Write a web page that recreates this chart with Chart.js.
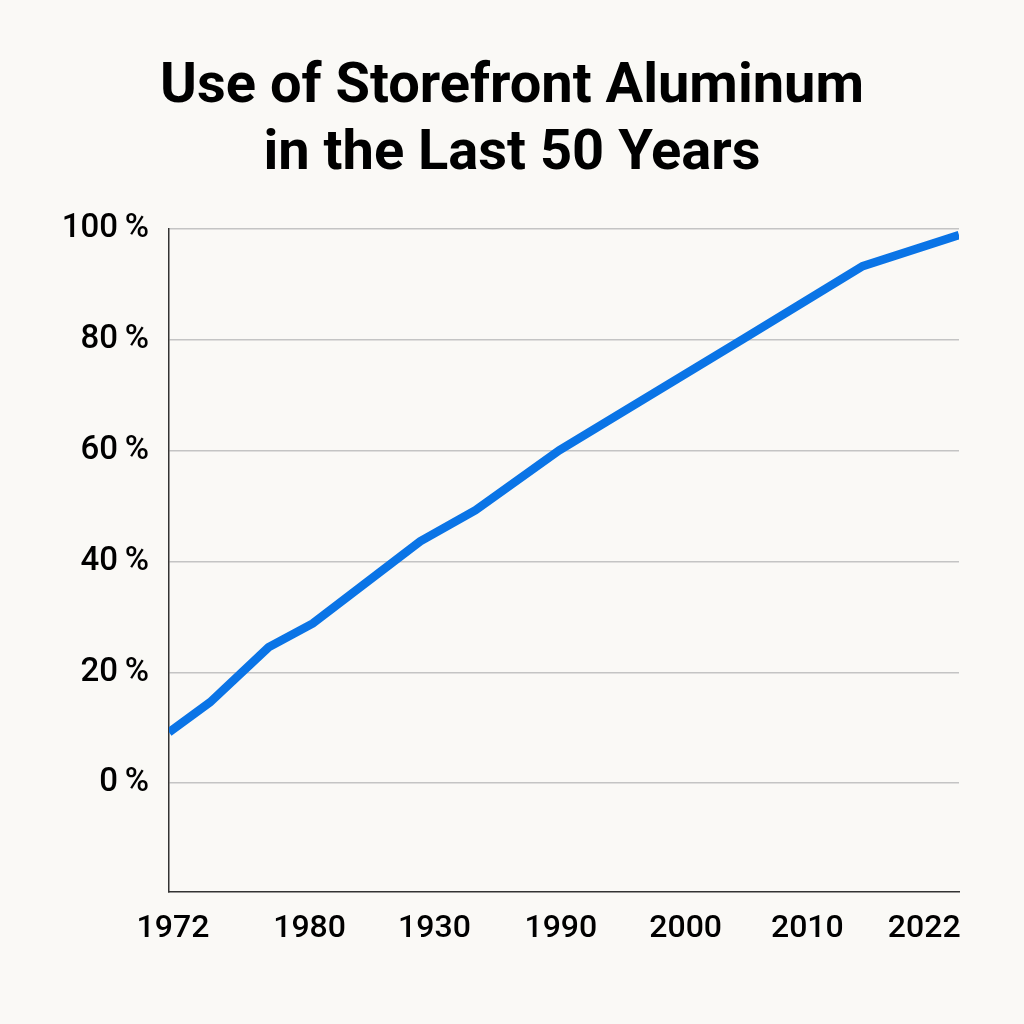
<!DOCTYPE html>
<html>
<head>
<meta charset="utf-8">
<script src="https://cdn.jsdelivr.net/npm/chart.js@4/dist/chart.umd.min.js"></script>
<style>
  html, body { margin: 0; padding: 0; background: #faf9f6; }
  #wrap { width: 1024px; height: 1024px; }
</style>
</head>
<body>
<div id="wrap"><canvas id="line-chart"></canvas></div>
<script>
// values (x in years, y in percent)
var years = [1972, 1974.6, 1978.3, 1981.1, 1987.9, 1991.4, 1996.7, 2008.3, 2015.9, 2022];
var usePct = [9.2, 14.6, 24.5, 28.8, 43.6, 49.2, 60, 80, 93.2, 98.8];

var xTickYears = [1972.25, 1980.9, 1988.8, 1996.8, 2004.7, 2012.4, 2019.8];
var xTickLabels = ['1972', '1980', '1930', '1990', '2000', '2010', '2022'];
var yTicks = [0, 20, 40, 60, 80, 100];

var titleLines = ['Use of Storefront Aluminum', 'in the Last 50 Years'];

var points = years.map(function(y, i) { return { x: y, y: usePct[i] }; });

var ctx = document.getElementById('line-chart');

var myLineChart = new Chart(ctx, {
	type: 'line',
	data: {
		datasets: [
			{
				label: 'Storefront aluminum',
				data: points,
				borderColor: '#0a74e6',
				borderWidth: 8.5,
				pointRadius: 0,
				fill: false,
				tension: 0,
				clip: 0
			}
		]
	},
	options: {
		responsive: true,
		maintainAspectRatio: false,
		animation: false,
		layout: { padding: 0 },
		plugins: {
			legend: { display: false },
			tooltip: { enabled: false },
			title: {
				display: true,
				text: titleLines,
				color: '#000',
				font: { family: 'Roboto', size: 56, weight: 'bold', lineHeight: 1.2 },
				padding: { top: 54, bottom: 40 }
			}
		},
		scales: {
			x: {
				type: 'linear',
				min: 1972,
				max: 2022,
				afterBuildTicks: function(axis) {
					axis.ticks = xTickYears.map(function(v) { return { value: v }; });
				},
				afterFit: function(axis) { axis.height = 132; },
				ticks: {
					autoSkip: false,
					maxRotation: 0,
					padding: 18,
					color: '#000',
					font: { family: 'Roboto', size: 32, weight: 500 },
					callback: function(value, index) { return xTickLabels[index]; }
				},
				grid: { color: 'rgba(0,0,0,0)', drawTicks: false },
				border: { display: true, color: '#333', width: 1.5 }
			},
			y: {
				min: -19.6,
				max: 100,
				afterBuildTicks: function(axis) {
					axis.ticks = yTicks.map(function(v) { return { value: v }; });
				},
				afterFit: function(axis) { axis.width = 169; },
				ticks: {
					padding: 20,
					color: '#000',
					font: { family: 'Roboto', size: 33, weight: 500 },
					callback: function(value) { return value + '\u2009%'; }
				},
				grid: { color: '#c4c4c4', lineWidth: 1.5, drawTicks: false },
				border: { display: true, color: '#333', width: 1.5 }
			},
			// empty right axis, only to leave the margin on the right
			yRight: {
				position: 'right',
				display: true,
				afterFit: function(axis) { axis.width = 65; },
				ticks: { display: false },
				grid: { display: false },
				border: { display: false }
			}
		}
	}
});
</script>
</body>
</html>
